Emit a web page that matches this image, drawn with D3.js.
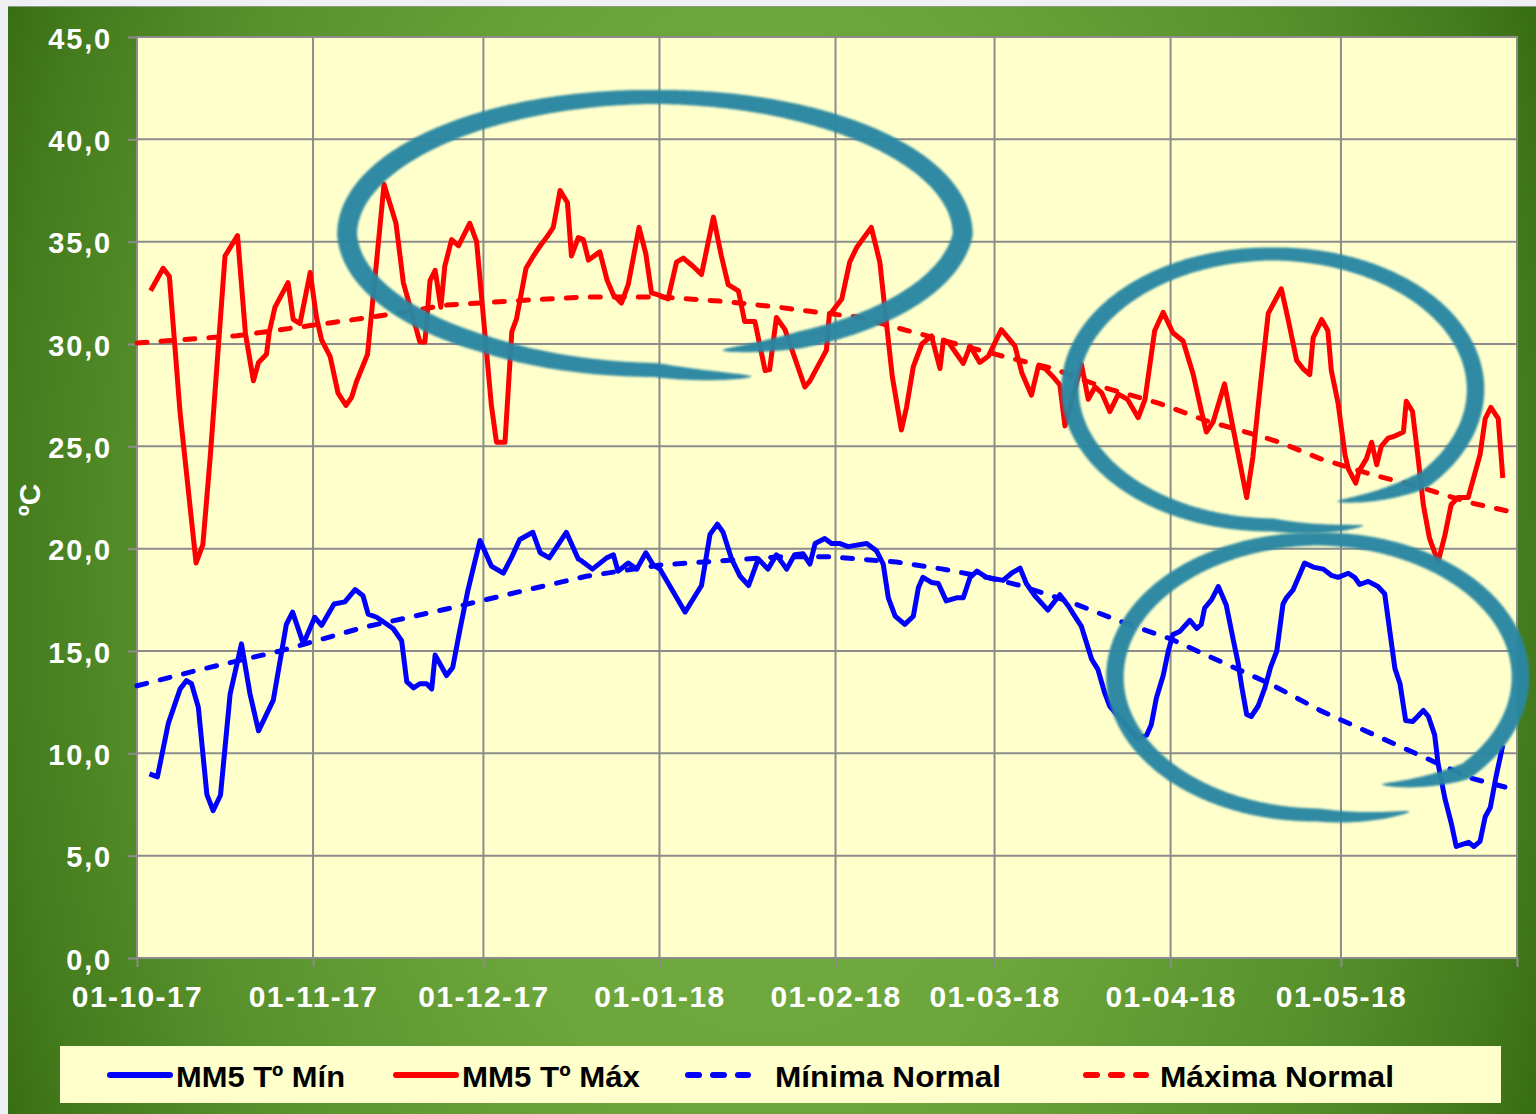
<!DOCTYPE html>
<html><head><meta charset="utf-8">
<script src="https://cdn.jsdelivr.net/npm/d3@7"></script>
<style>html,body{margin:0;padding:0;background:#eff0f3;overflow:hidden}</style>
</head><body>
<svg id="c" width="1536" height="1114"></svg>
<script>
// ---------- DATA ----------
const startDate = "2017-10-01";
const endDate = "2018-06-01";
const xTickDates = ["2017-10-01","2017-11-01","2017-12-01","2018-01-01","2018-02-01","2018-03-01","2018-04-01","2018-05-01","2018-06-01"];
const yTicks = [0,5,10,15,20,25,30,35,40,45];
const legendLabels = ["MM5 Tº Mín","MM5 Tº Máx","Mínima Normal","Máxima Normal"];
const yTitle = "ºC";

// days since 01-10-17
const maxDays = [2.4,4.6,5.7,7.6,10.4,11.6,12.9,15.5,17.7,19.1,20.5,21.4,22.8,23.3,24.3,26.6,27.5,28.7,30.5,31.6,32.5,34.0,35.4,36.8,37.8,38.7,40.6,43.5,45.6,46.9,49.8,50.7,51.6,52.5,53.5,54.2,55.4,56.6,58.6,59.8,62.4,63.3,64.8,66.0,66.8,68.5,69.8,71.0,72.1,73.3,74.5,75.8,76.5,77.7,78.6,79.5,81.5,82.8,83.9,85.3,86.5,88.4,89.6,90.6,91.8,93.5,95.0,96.2,97.9,99.4,101.5,102.9,104.1,105.9,107.0,108.8,110.6,111.4,112.6,114.1,117.6,118.5,121.4,121.9,124.1,125.5,126.7,129.3,130.8,131.7,133.0,134.6,135.5,136.7,138.2,139.9,141.4,142.0,143.1,145.5,146.7,148.4,149.9,152.2,154.6,155.8,157.5,158.7,159.9,161.3,162.5,163.4,166.3,167.5,168.7,169.9,171.3,172.8,174.4,176.3,177.5,179.2,180.7,182.4,184.2,186.0,187.4,188.3,189.5,191.5,193.0,195.4,196.5,197.7,199.2,201.5,202.7,204.2,205.3,206.5,207.1,208.6,209.7,210.3,211.5,212.7,213.3,214.6,215.2,216.5,217.4,218.3,219.1,220.3,221.5,223.0,223.5,224.6,225.6,226.5,227.6,229.1,230.3,231.4,232.6,234.4,235.3,236.5,237.4,238.4,239.7,240.5];
const maxValues = [32.6,33.7,33.3,26.6,19.3,20.2,24.5,34.3,35.3,30.5,28.2,29.1,29.5,30.6,31.8,33.0,31.2,31.0,33.5,31.3,30.2,29.4,27.6,27.0,27.4,28.2,29.5,37.8,35.9,33.0,30.1,30.1,33.1,33.6,31.8,33.8,35.1,34.8,35.9,35.0,27.0,25.2,25.2,30.6,31.2,33.7,34.3,34.8,35.2,35.7,37.5,36.9,34.3,35.2,35.1,34.1,34.5,33.1,32.4,32.0,32.9,35.7,34.4,32.5,32.4,32.2,34.0,34.2,33.8,33.4,36.2,34.3,32.9,32.6,31.1,31.1,28.7,28.75,31.3,30.7,27.9,28.2,29.7,31.4,32.2,34.0,34.7,35.7,34.0,31.7,28.4,25.8,26.9,28.9,30.0,30.4,28.8,30.2,30.0,29.05,29.9,29.1,29.4,30.7,29.9,28.6,27.5,28.9,28.8,28.4,28.0,26.0,29.0,27.3,27.9,27.6,26.7,27.55,27.3,26.4,27.3,30.65,31.55,30.55,30.15,28.5,26.75,25.7,26.2,28.05,25.9,22.5,24.5,27.7,31.5,32.7,31.2,29.2,28.8,28.5,30.3,31.2,30.65,28.7,27.1,24.6,23.9,23.2,23.8,24.4,25.2,24.1,25.0,25.4,25.5,25.7,27.2,26.7,24.4,22.15,20.5,19.35,20.65,22.15,22.5,22.5,23.4,24.6,26.35,26.9,26.35,23.45];

const minDays = [2.2,3.6,5.5,7.6,8.7,9.6,10.8,12.3,13.4,14.7,16.4,18.4,19.9,21.4,22.8,24.0,26.3,27.4,29.3,31.3,32.5,34.7,36.6,38.4,39.8,40.7,42.2,45.1,46.6,47.5,48.7,49.8,51.0,51.9,52.5,54.5,55.6,56.9,58.3,60.4,62.4,64.5,66.0,67.4,69.7,71.0,72.6,75.6,77.7,78.3,80.2,82.7,83.9,84.7,86.5,88.0,89.6,90.9,92.1,96.5,99.4,100.9,102.2,103.2,104.7,106.2,107.7,109.4,111.1,112.6,114.4,115.8,117.3,118.5,119.4,121.1,122.3,123.8,125.2,126.2,128.5,130.2,131.4,132.3,133.5,135.2,136.7,137.6,138.4,139.9,141.1,142.5,144.3,145.5,146.7,147.9,149.6,152.5,154.0,155.5,156.6,158.1,160.4,162.5,164.0,164.9,166.3,168.1,169.2,170.4,171.3,176.3,177.8,178.6,179.5,180.7,181.6,182.4,183.6,185.4,186.6,187.4,188.0,189.2,190.4,191.8,193.0,193.9,194.5,195.4,196.2,197.4,198.6,199.6,200.7,201.8,202.4,203.6,205.6,207.1,208.9,210.3,211.5,213.3,214.4,215.3,216.8,218.5,219.7,221.5,222.4,223.4,224.6,225.5,226.5,227.4,228.5,229.1,230.3,231.5,232.3,234.5,235.4,236.5,237.4,238.3,239.3,240.5];
const minValues = [9.0,8.85,11.45,13.15,13.55,13.4,12.25,8.0,7.2,7.95,12.9,15.35,12.9,11.1,11.9,12.6,16.3,16.9,15.35,16.65,16.25,17.3,17.4,18.0,17.7,16.8,16.65,16.1,15.5,13.5,13.2,13.4,13.4,13.15,14.8,13.8,14.2,16.1,18.0,20.4,19.15,18.8,19.6,20.45,20.8,19.8,19.55,20.8,19.5,19.4,19.0,19.55,19.7,18.9,19.3,19.0,19.8,19.2,19.0,16.9,18.2,20.7,21.2,20.8,19.5,18.65,18.2,19.5,19.0,19.7,19.0,19.7,19.75,19.25,20.25,20.5,20.25,20.25,20.1,20.15,20.25,19.9,19.25,17.6,16.7,16.3,16.7,18.1,18.6,18.35,18.3,17.45,17.6,17.6,18.6,18.9,18.6,18.45,18.8,19.05,18.3,17.7,17.0,17.75,17.2,16.8,16.2,14.6,14.1,12.95,12.3,10.7,10.9,11.4,12.7,13.8,15.0,15.8,15.95,16.5,16.1,16.3,17.1,17.5,18.15,17.25,15.6,14.4,13.3,11.9,11.8,12.3,13.2,14.2,15.0,17.3,17.6,18.0,19.3,19.1,19.0,18.7,18.6,18.8,18.6,18.25,18.4,18.15,17.8,14.15,13.4,11.6,11.55,11.8,12.1,11.8,10.9,9.5,7.8,6.5,5.45,5.65,5.45,5.7,6.9,7.35,8.85,10.4];

const minNormalDays = [0,10.5,25.2,39.8,54.5,68.9,79.1,92.1,112.9,122.0,133.7,141.9,149.6,155.5,164.3,173.1,181.9,190.7,199.5,208.3,217.1,225.9,234.7,243];
const minNormalValues = [13.3,14.05,15.0,16.15,17.05,18.0,18.65,19.2,19.6,19.6,19.35,19.0,18.6,18.2,17.4,16.45,15.6,14.5,13.4,12.1,11.0,9.9,8.8,8.2];
const maxNormalDays = [0,17.6,30.5,41,54.5,66,79,92,102.5,112.9,118.5,127.3,133.7,137.8,144.3,152.5,161.3,170,180,188.3,196.5,201.2,208.3,217.1,225.9,234.7,242];
const maxNormalValues = [30.05,30.4,30.9,31.3,31.9,32.1,32.3,32.3,32.1,31.8,31.6,31.3,30.8,30.5,30.0,29.4,28.8,27.9,27.1,26.25,25.6,25.2,24.4,23.65,23.0,22.25,21.8];

// annotation rings: centre (day, value), radii (days, degrees), spiral knots [angle deg, radius factor]
const ringCentreDays = [91.2, 200.0, 207.9];
const ringCentreValues = [35.35, 27.78, 13.73];
const ringRadiusDays = [54.2, 35.7, 35.7];
const ringRadiusValues = [6.72, 6.62, 6.74];
const ringKnots = [
  [[75.5,0.87],[0,1.0],[-180,1.0],[-235,0.97],[-270,0.985],[-287,1.08]],
  [[69,0.885],[42,1.0],[-270,1.0],[-294,1.1]],
  [[68,0.84],[43,1.0],[-270,1.0],[-295,1.075]]
];

// ---------- DRAW ----------
const svg = d3.select("#c");
const parse = d3.utcParse("%Y-%m-%d");
const t0 = parse(startDate);
const dayToDate = d => new Date(t0.getTime() + d * 864e5);
const FONT = "'Liberation Sans', Arial, sans-serif";

const x = d3.scaleUtc().domain([t0, parse(endDate)]).range([137, 1517]);
const y = d3.scaleLinear().domain([0, 45]).range([958, 37]);

// background
const defs = svg.append("defs");
const rg = defs.append("radialGradient").attr("id","bg").attr("gradientUnits","userSpaceOnUse")
  .attr("cx",768).attr("cy",560).attr("r",860)
  .attr("gradientTransform","translate(768,560) scale(1,1.65) translate(-768,-560)");
[[0,"#76b042"],[0.4,"#6ca53a"],[0.7,"#57912c"],[0.88,"#457c1e"],[1,"#346a0e"]]
  .forEach(([o,c]) => rg.append("stop").attr("offset",o).attr("stop-color",c));
const blur = defs.append("filter").attr("id","soft").attr("x","-5%").attr("y","-5%").attr("width","110%").attr("height","110%");
blur.append("feGaussianBlur").attr("stdDeviation",0.8);

svg.append("rect").attr("width",1536).attr("height",1114).attr("fill","#eff0f3");
svg.append("rect").attr("x",8).attr("y",6).attr("width",1528).attr("height",1108).attr("fill","url(#bg)");
svg.append("line").attr("x1",8).attr("x2",1536).attr("y1",6.5).attr("y2",6.5).attr("stroke","#8a9a80").attr("stroke-width",1);

// plot area
svg.append("rect").attr("x",137).attr("y",37).attr("width",1380).attr("height",921).attr("fill","#ffffcc");

// gridlines
const grid = svg.append("g").attr("stroke","#8c8c8c").attr("stroke-width",2);
grid.selectAll("line.h").data(yTicks.filter(v => v > 0 && v < 45)).join("line")
  .attr("x1",137).attr("x2",1517).attr("y1",d=>y(d)).attr("y2",d=>y(d));
grid.selectAll("line.v").data(xTickDates.slice(1,-1)).join("line")
  .attr("y1",37).attr("y2",958).attr("x1",d=>x(parse(d))).attr("x2",d=>x(parse(d)));
svg.append("rect").attr("x",137).attr("y",37).attr("width",1380).attr("height",921)
  .attr("fill","none").attr("stroke","#8c8c8c").attr("stroke-width",2);

// axes
const fmtY = d => d3.format(".1f")(d).replace(".", ",");
const yAxis = svg.append("g").attr("transform","translate(137,0)")
  .call(d3.axisLeft(y).tickValues(yTicks).tickFormat(fmtY).tickSize(9).tickPadding(16));
yAxis.select(".domain").remove();
yAxis.selectAll(".tick line").attr("stroke","#8c8c8c").attr("stroke-width",2);
yAxis.selectAll(".tick text").attr("fill","#fff").attr("font-family",FONT).attr("font-weight","bold")
  .attr("font-size",29).attr("letter-spacing",1.8).attr("dy","0.38em");

const fmtX = d3.utcFormat("%d-%m-%y");
const xAxis = svg.append("g").attr("transform","translate(0,958)")
  .call(d3.axisBottom(x).tickValues(xTickDates.map(parse)).tickSize(9).tickPadding(19)
    .tickFormat(d => d.getTime() === parse(endDate).getTime() ? "" : fmtX(d)));
xAxis.select(".domain").remove();
xAxis.selectAll(".tick line").attr("stroke","#8c8c8c").attr("stroke-width",2);
xAxis.selectAll(".tick text").attr("fill","#fff").attr("font-family",FONT).attr("font-weight","bold")
  .attr("font-size",30).attr("letter-spacing",1.4);

svg.append("text").attr("transform","translate(40,500) rotate(-90)").attr("text-anchor","middle")
  .attr("fill","#fff").attr("font-family",FONT).attr("font-weight","bold").attr("font-size",30).text(yTitle);

// series
const zip = (ds, vs) => ds.map((d,i) => ({date: dayToDate(d), v: vs[i]}));
const line = d3.line().x(d => x(d.date)).y(d => y(d.v));
const series = [
  {data: zip(minDays, minValues), color: "#0000ff", dash: null},
  {data: zip(maxDays, maxValues), color: "#ff0000", dash: null},
  {data: zip(minNormalDays, minNormalValues), color: "#0000ff", dash: "10 14"},
  {data: zip(maxNormalDays, maxNormalValues), color: "#ff0000", dash: "10 14"}
];
const plot = svg.append("g");
series.forEach(s => {
  plot.append("path").attr("d", line(s.data)).attr("fill","none").attr("stroke", s.color)
    .attr("stroke-width",5).attr("stroke-linejoin","round")
    .attr("stroke-linecap", s.dash ? "round" : "butt")
    .attr("stroke-dasharray", s.dash);
});

// annotation rings
const pxPerDay = (x(dayToDate(1)) - x(dayToDate(0)));
const pxPerDeg = y(0) - y(1);
function ring(i) {
  const cx = x(dayToDate(ringCentreDays[i])), cy = y(ringCentreValues[i]);
  const rx = ringRadiusDays[i] * pxPerDay, ry = ringRadiusValues[i] * pxPerDeg;
  const knots = ringKnots[i];
  const a0 = knots[0][0], a1 = knots[knots.length-1][0];
  const kAt = a => {
    for (let j = 0; j < knots.length - 1; j++) {
      const [aa, ka] = knots[j], [ab, kb] = knots[j+1];
      if (a <= aa && a >= ab) return ka + (kb - ka) * (aa - a) / (aa - ab);
    }
    return knots[knots.length-1][1];
  };
  const N = 700, pts = [];
  for (let n = 0; n <= N; n++) {
    const a = a0 + (a1 - a0) * n / N, r = a * Math.PI / 180, k = kAt(a);
    pts.push({x: cx + k * rx * Math.cos(r), y: cy + k * ry * Math.sin(r), a: r});
  }
  let s = 0; pts[0].s = 0;
  for (let n = 1; n <= N; n++) { s += Math.hypot(pts[n].x - pts[n-1].x, pts[n].y - pts[n-1].y); pts[n].s = s; }
  const L = s;
  const base = i === 0 ? [14, 6] : [13, 4.5];
  const left = [], right = [];
  pts.forEach((p, n) => {
    const q0 = pts[Math.max(0, n-1)], q1 = pts[Math.min(N, n+1)];
    let tx = q1.x - q0.x, ty = q1.y - q0.y; const tl = Math.hypot(tx, ty) || 1; tx /= tl; ty /= tl;
    const taper = Math.pow(Math.max(0, Math.min(1, p.s / 80, (L - p.s) / 90)), 0.6);
    const w = (base[0] + base[1] * Math.abs(Math.cos(p.a))) * taper / 2;
    left.push([p.x - ty * w, p.y + tx * w]);
    right.push([p.x + ty * w, p.y - tx * w]);
  });
  const poly = left.concat(right.reverse());
  svg.append("path").attr("d", "M" + poly.map(p => p[0].toFixed(1) + "," + p[1].toFixed(1)).join("L") + "Z")
    .attr("fill", "#2b87a2").attr("filter","url(#soft)").attr("opacity",0.97);
}
ringCentreDays.forEach((_, i) => ring(i));

// legend
svg.append("rect").attr("x",60).attr("y",1046).attr("width",1441).attr("height",57).attr("fill","#ffffcc");
const legendX = [110, 396, 688, 1086];
const legendTextX = [176, 462, 775, 1160];
const legendW = [169, 178, 226, 234];
const lg = svg.append("g");
series.forEach((s, i) => {
  lg.append("line").attr("x1", legendX[i]).attr("x2", legendX[i] + 60).attr("y1",1075).attr("y2",1075)
    .attr("stroke", s.color).attr("stroke-width",6)
    .attr("stroke-linecap", "round").attr("stroke-dasharray", s.dash ? "11 14" : null);
  lg.append("text").attr("x", legendTextX[i]).attr("y",1087).attr("font-family",FONT).attr("font-weight","bold")
    .attr("font-size",30).attr("fill","#000").attr("textLength", legendW[i]).attr("lengthAdjust","spacingAndGlyphs")
    .text(legendLabels[i]);
});
</script>
</body></html>
